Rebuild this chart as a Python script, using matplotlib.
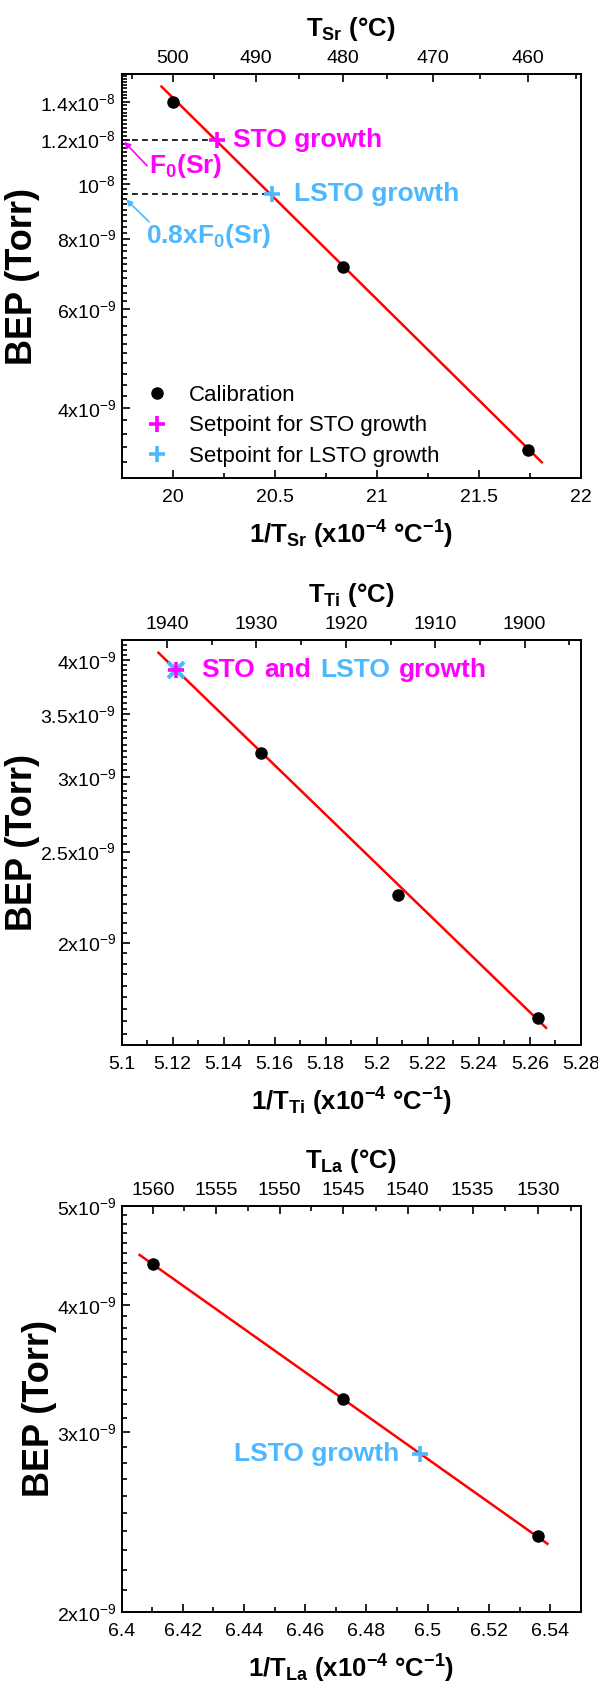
import matplotlib
matplotlib.use("Agg")
import matplotlib.pyplot as plt
import numpy as np
from matplotlib import ticker
from matplotlib.lines import Line2D
from matplotlib.offsetbox import AnnotationBbox, HPacker, TextArea

MAGENTA = "#FF00FF"
SKY = "#4CB8FF"
RED = "#FF0000"

# --- Sr cell -------------------------------------------------------------
sr_cal_temp = [500, 480, 460]                 # degC
sr_cal_bep = [1.40e-8, 7.11e-9, 3.36e-9]      # Torr
sr_fit_x = [19.946, 21.809]                   # 1e4/T
sr_fit_bep = [1.491e-8, 3.20e-9]
sr_sto_x, sr_sto_bep = 20.216, 1.20e-8
sr_lsto_x, sr_lsto_bep = 20.4875, 9.6e-9
sr_yticks = [4e-9, 6e-9, 8e-9, 1e-8, 1.2e-8, 1.4e-8]
sr_ylabels = ["4x$10^{-9}$", "6x$10^{-9}$", "8x$10^{-9}$", "$10^{-8}$",
              "1.2x$10^{-8}$", "1.4x$10^{-8}$"]
sr_top_ticks = [500, 490, 480, 470, 460]

# --- Ti cell -------------------------------------------------------------
ti_cal_temp = [1940, 1920, 1900]
ti_cal_bep = [3.18e-9, 2.246e-9, 1.661e-9]
ti_fit_x = [5.1145, 5.2664]
ti_fit_bep = [4.07e-9, 1.623e-9]
ti_set_x, ti_set_bep = 5.1212, 3.90e-9
ti_yticks = [2e-9, 2.5e-9, 3e-9, 3.5e-9, 4e-9]
ti_ylabels = ["2x$10^{-9}$", "2.5x$10^{-9}$", "3x$10^{-9}$", "3.5x$10^{-9}$", "4x$10^{-9}$"]
ti_top_ticks = [1940, 1930, 1920, 1910, 1900]
# top axis of the Ti panel is a linear scale in the original
ti_top_t0, ti_top_x0, ti_top_slope = 1940.0, 5.1178, 0.003505

# --- La cell -------------------------------------------------------------
la_cal_temp = [1560, 1545, 1530]
la_cal_bep = [4.386e-9, 3.238e-9, 2.372e-9]
la_fit_x = [6.4059, 6.5391]
la_fit_bep = [4.477e-9, 2.333e-9]
la_set_x, la_set_bep = 6.4976, 2.855e-9
la_yticks = [2e-9, 3e-9, 4e-9, 5e-9]
la_ylabels = ["2x$10^{-9}$", "3x$10^{-9}$", "4x$10^{-9}$", "5x$10^{-9}$"]
la_top_ticks = [1560, 1555, 1550, 1545, 1540, 1535, 1530]

plt.rcParams.update({
    "font.family": ["Liberation Sans", "DejaVu Sans"],
    "mathtext.fontset": "custom",
    "mathtext.rm": "Liberation Sans",
    "mathtext.bf": "Liberation Sans:bold",
    "mathtext.default": "regular",
    "axes.linewidth": 1.4,
})

TXT = dict(fontsize=19, fontweight="bold")
TICK = 14


def inv(v):
    v = np.asarray(v, dtype=float)
    with np.errstate(divide="ignore"):
        return 1e4 / v


def frame(ax, xlim, ylim, xmaj, xmin, yticks, ylabels, ymin, elem, top_funcs, tticks, tmin):
    ax.set_yscale("log")
    ax.set_xlim(*xlim)
    ax.set_ylim(*ylim)
    ax.set_yticks(yticks, labels=ylabels)
    ax.yaxis.set_minor_locator(ticker.MultipleLocator(ymin))
    ax.yaxis.set_minor_formatter(ticker.NullFormatter())
    ax.xaxis.set_major_locator(ticker.MultipleLocator(xmaj))
    ax.xaxis.set_minor_locator(ticker.MultipleLocator(xmin))
    ax.xaxis.set_major_formatter(ticker.FormatStrFormatter("%g"))
    ax.tick_params(which="both", direction="in", top=False, right=False, labelsize=TICK, width=1.2)
    ax.tick_params(which="major", length=6)
    ax.tick_params(which="minor", length=3.5)
    ax.tick_params(axis="x", pad=8)
    ax.tick_params(axis="y", pad=4)
    ax.set_ylabel("BEP (Torr)", fontsize=26, fontweight="bold", labelpad=0)
    ax.set_xlabel(f"1/$T_{{{elem}}}$ (x$10^{{-4}}$ °$C^{{-1}}$)",
                  fontsize=18.5, fontweight="bold", labelpad=9)
    sec = ax.secondary_xaxis("top", functions=top_funcs)
    sec.xaxis.set_major_locator(ticker.FixedLocator(tticks))
    sec.xaxis.set_minor_locator(ticker.MultipleLocator(tmin))
    sec.xaxis.set_major_formatter(ticker.FormatStrFormatter("%g"))
    sec.tick_params(which="both", direction="in", labelsize=TICK, width=1.2, pad=5)
    sec.tick_params(which="major", length=6)
    sec.tick_params(which="minor", length=3.5)
    sec.set_xlabel(f"$T_{{{elem}}}$ (°C)", fontsize=18.5, fontweight="bold", labelpad=10)
    return sec


fig = plt.figure(figsize=(5.98, 16.85), dpi=100)

# ---------------- Sr ----------------
ax = fig.add_axes([0.2032, 0.7163, 0.768, 0.2398])
frame(ax, (19.75, 22.0), (3e-9, 1.57e-8), 0.5, 0.25, sr_yticks, sr_ylabels, 2e-10,
      "Sr", (inv, inv), sr_top_ticks, 5)
ax.plot(sr_fit_x, sr_fit_bep, color=RED, lw=1.8, zorder=2)
ax.hlines([sr_sto_bep, sr_lsto_bep], 19.75, [sr_sto_x, sr_lsto_x], colors="black",
          linestyles=(0, (3.5, 2.5)), lw=1.2, zorder=2)
ax.plot(inv(sr_cal_temp), sr_cal_bep, "o", color="black", ms=8, zorder=3)
ax.plot(sr_sto_x, sr_sto_bep, "+", color=MAGENTA, ms=12, mew=2.6, zorder=4)
ax.plot(sr_lsto_x, sr_lsto_bep, "+", color=SKY, ms=12, mew=2.6, zorder=4)
ax.text(20.297, sr_sto_bep, "STO growth", color=MAGENTA, ha="left", va="center", **TXT)
ax.text(20.596, sr_lsto_bep, "LSTO growth", color=SKY, ha="left", va="center", **TXT)
ax.text(19.885, 1.077e-8, "F$_0$(Sr)", color=MAGENTA, ha="left", va="center", **TXT)
ax.text(19.872, 8.08e-9, "0.8xF$_0$(Sr)", color=SKY, ha="left", va="center", **TXT)
ax.annotate("", xy=(19.763, 1.19e-8), xytext=(19.875, 1.078e-8),
            arrowprops=dict(arrowstyle="-|>", color=MAGENTA, lw=1.2, shrinkA=0, shrinkB=0,
                            mutation_scale=9))
ax.annotate("", xy=(19.7725, 9.39e-9), xytext=(19.885, 8.57e-9),
            arrowprops=dict(arrowstyle="-|>", color=SKY, lw=1.2, shrinkA=0, shrinkB=0,
                            mutation_scale=9))
handles = [
    Line2D([], [], ls="none", marker="o", color="black", ms=8),
    Line2D([], [], ls="none", marker="+", color=MAGENTA, ms=12, mew=2.6),
    Line2D([], [], ls="none", marker="+", color=SKY, ms=12, mew=2.6),
]
ax.legend(handles, ["Calibration", "Setpoint for STO growth", "Setpoint for LSTO growth"],
          loc="lower left", bbox_to_anchor=(0.0525, 0.028), frameon=False, fontsize=16,
          handlelength=1.0, handletextpad=0.95, labelspacing=0.42, borderpad=0,
          borderaxespad=0)

# ---------------- Ti ----------------
ax = fig.add_axes([0.2032, 0.3798, 0.768, 0.2404])


def ti_fwd(x):
    return ti_top_t0 - (np.asarray(x, dtype=float) - ti_top_x0) / ti_top_slope


def ti_inv(t):
    return ti_top_x0 + (ti_top_t0 - np.asarray(t, dtype=float)) * ti_top_slope


frame(ax, (5.1, 5.28), (1.556e-9, 4.2e-9), 0.02, 0.01, ti_yticks, ti_ylabels, 5e-11,
      "Ti", (ti_fwd, ti_inv), ti_top_ticks, 5)
ax.plot(ti_fit_x, ti_fit_bep, color=RED, lw=1.8, zorder=2)
ax.plot(inv(ti_cal_temp), ti_cal_bep, "o", color="black", ms=8, zorder=3)
ax.plot(ti_set_x, ti_set_bep, "x", color=SKY, ms=12, mew=3, zorder=4)
ax.plot(ti_set_x, ti_set_bep, "+", color=MAGENTA, ms=11, mew=2.6, zorder=5)
parts = [("STO", MAGENTA), ("and", MAGENTA), ("LSTO", SKY), ("growth", MAGENTA)]
box = HPacker(children=[TextArea(t, textprops=dict(color=c, **TXT)) for t, c in parts],
              align="baseline", pad=0, sep=6.5)
ax.add_artist(AnnotationBbox(box, (5.1314, 3.9e-9), xycoords="data", box_alignment=(0, 0.5),
                             frameon=False, pad=0))

# ---------------- La ----------------
ax = fig.add_axes([0.2032, 0.0433, 0.768, 0.2410])
frame(ax, (6.4, 6.55), (2e-9, 5e-9), 0.02, 0.01, la_yticks, la_ylabels, 1e-10,
      "La", (inv, inv), la_top_ticks, 2.5)
ax.plot(la_fit_x, la_fit_bep, color=RED, lw=1.8, zorder=2)
ax.plot(inv(la_cal_temp), la_cal_bep, "o", color="black", ms=8, zorder=3)
ax.plot(la_set_x, la_set_bep, "+", color=SKY, ms=12, mew=2.6, zorder=4)
ax.text(6.4907, la_set_bep, "LSTO growth", color=SKY, ha="right", va="center", **TXT)

fig.savefig("out.png", dpi=100, facecolor="white")
